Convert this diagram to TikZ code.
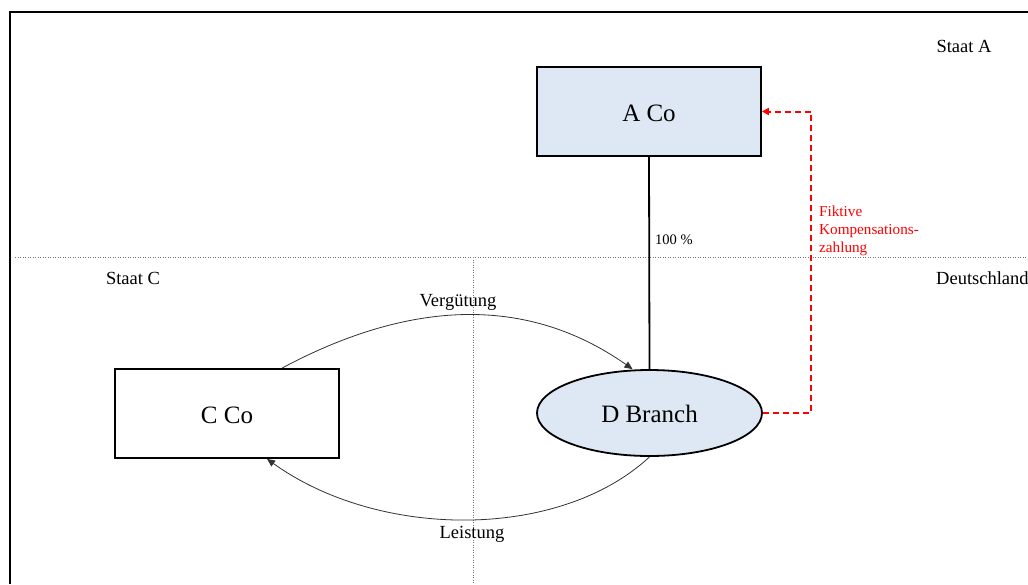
\documentclass[tikz,border=0pt]{standalone}
\usepackage{fontspec}
\setmainfont{Liberation Serif}
\usetikzlibrary{arrows.meta,shapes.geometric}
\definecolor{boxfill}{RGB}{222,232,245}
\definecolor{sepgray}{RGB}{120,120,120}
\definecolor{flowline}{RGB}{50,50,50}
\definecolor{fictred}{RGB}{255,0,0}
\tikzset{
  bigtext/.style={font=\fontsize{25}{30}\selectfont, text height=19.5pt, text depth=0pt},
  entity/.style={draw=black, line width=1.8pt, minimum width=224pt, minimum height=89pt, inner sep=0pt, bigtext},
  label/.style={inner sep=0pt, font=\fontsize{18.5}{22}\selectfont},
  smalltext/.style={inner sep=0pt, font=\fontsize{14.5}{17.5}\selectfont},
  redtext/.style={inner sep=0pt, text=fictred, font=\fontsize{15.2}{18}\selectfont},
  border/.style={sepgray, line width=0.8pt, dash pattern=on 1pt off 1.5pt},
  flow/.style={flowline, line width=0.8pt, -{Triangle[length=8pt,width=7pt]}},
  fiktiv/.style={fictred, line width=2pt, dash pattern=on 6pt off 4pt, -{Triangle[length=7pt,width=7pt]}}
}
\begin{document}
\begin{tikzpicture}[x=1pt,y=-1pt]
  \useasboundingbox (0,0) rectangle (1028,584);
  \fill[white] (0,0) rectangle (1028,584);
  % outer frame (open to the right and bottom)
  \draw[line width=2pt] (10,584) -- (10,12) -- (1028,12);
  % country borders
  \draw[border] (15,257) -- (1028,257);
  \draw[border] (473,257) -- (473,584);
  % country names
  \node[label] (staatA) at (964,46) {Staat A};
  \node[label] (staatC) at (133,278) {Staat C};
  \node[label, anchor=west] (de) at (936,278) {Deutschland};
  % entities
  \node[entity, fill=boxfill] (aco) at (649,111.5) {A Co};
  \node[entity, fill=white] (cco) at (227,413.5) {C Co};
  \node[ellipse, draw=black, line width=1.8pt, fill=boxfill, bigtext,
        minimum width=225pt, minimum height=86pt, inner sep=0pt] (dbr) at (649.5,413) {D Branch};
  % shareholding
  \draw[line width=1.8pt] (aco.south) -- (dbr.north);
  \node[smalltext, anchor=west] (share) at (655,240) {100 \%};
  % payment and service flows
  \draw[flow] ([xshift=55pt]cco.north) .. controls (400,305) and (520,290) .. ([xshift=-17pt]dbr.north);
  \node[label] (verg) at (458,302) {Vergütung};
  \draw[flow] (dbr.south) .. controls (560,540) and (380,540) .. ([xshift=40pt]cco.south);
  \node[label] (leist) at (472,534) {Leistung};
  % notional compensation payment
  \coordinate (bend) at (811,412);
  \draw[fiktiv] (dbr.east) -- (dbr.east -| bend) -- (bend |- aco.east) -- (aco.east);
  \node[redtext, anchor=west, align=left] (komp) at (819,231)
    {Fiktive\\Kompensations-\\zahlung};
\end{tikzpicture}
\end{document}
